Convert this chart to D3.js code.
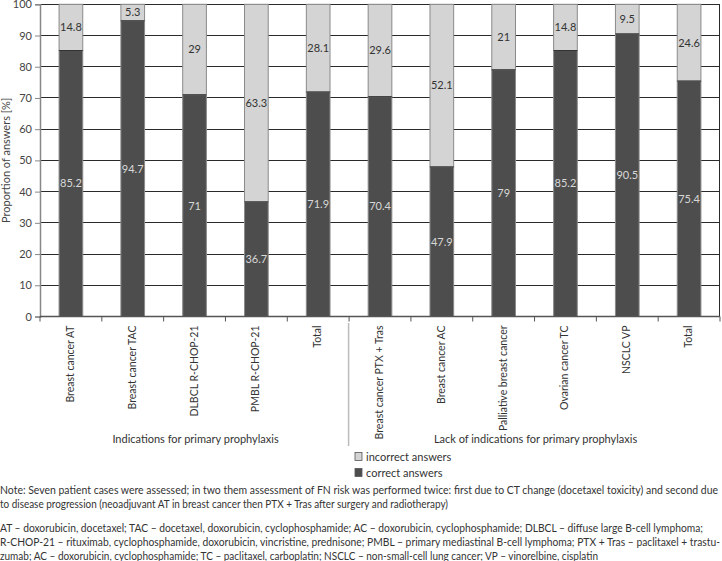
<!DOCTYPE html>
<html><head><meta charset="utf-8">
<script src="https://cdn.jsdelivr.net/npm/d3@7"></script>
<style>body{margin:0;background:#fff}svg{display:block}</style>
</head><body>
<svg id="c" width="722" height="561"></svg>
<script>
const categories = ["Breast cancer AT","Breast cancer TAC","DLBCL R-CHOP-21","PMBL R-CHOP-21","Total",
  "Breast cancer PTX + Tras","Breast cancer AC","Palliative breast cancer","Ovarian cancer TC","NSCLC VP","Total"];
const correct = [85.2,94.7,71,36.7,71.9,70.4,47.9,79,85.2,90.5,75.4];
const incorrect = [14.8,5.3,29,63.3,28.1,29.6,52.1,21,14.8,9.5,24.6];
const groups = [{name:"Indications for primary prophylaxis", from:0, to:4},
                {name:"Lack of indications for primary prophylaxis", from:5, to:10}];
const yTicks = [0,10,20,30,40,50,60,70,80,90,100];
const seriesNames = ["incorrect answers","correct answers"];
const noteLines = [
 "Note: Seven patient cases were assessed; in two them assessment of FN risk was performed twice: first due to CT change (docetaxel toxicity) and second due",
 "to disease progression (neoadjuvant AT in breast cancer then PTX + Tras after surgery and radiotherapy)"];
const abbrLines = [
 "AT – doxorubicin, docetaxel; TAC – docetaxel, doxorubicin, cyclophosphamide; AC – doxorubicin, cyclophosphamide; DLBCL – diffuse large B-cell lymphoma;",
 "R-CHOP-21 – rituximab, cyclophosphamide, doxorubicin, vincristine, prednisone; PMBL – primary mediastinal B-cell lymphoma; PTX + Tras – paclitaxel + trastu-",
 "zumab; AC – doxorubicin, cyclophosphamide; TC – paclitaxel, carboplatin; NSCLC – non-small-cell lung cancer; VP – vinorelbine, cisplatin"];

const svg = d3.select("#c");
const font = "Lato, 'Open Sans', sans-serif";
const L = 40, R = 720, T = 4.3, B = 316.5;
const idx = categories.map((_, i) => i);
const x = d3.scaleBand().domain(idx).range([L, R]).paddingInner(0.617).paddingOuter(0.3085);
const xb = d3.scaleBand().domain(idx).range([L, R]);
const y = d3.scaleLinear().domain([0, 100]).range([B, T]);
const cDark = "#4d4d4d", cLight = "#d4d4d4";

// gridlines
svg.append("g").selectAll("line").data(yTicks.filter(d => d > 0)).join("line")
  .attr("x1", L).attr("x2", R).attr("y1", d => y(d)).attr("y2", d => y(d))
  .attr("stroke", "#2a2a2a").attr("stroke-width", 1).attr("shape-rendering","crispEdges");
svg.append("line").attr("x1", R - 0.5).attr("x2", R - 0.5).attr("y1", T).attr("y2", B)
  .attr("stroke", "#2a2a2a").attr("shape-rendering","crispEdges");

// bars
const gb = svg.append("g");
idx.forEach(i => {
  gb.append("rect").attr("x", x(i)).attr("width", x.bandwidth())
    .attr("y", y(100)).attr("height", y(correct[i]) - y(100))
    .attr("fill", cLight).attr("stroke", "#8a8a8a").attr("stroke-width", 1);
  gb.append("rect").attr("x", x(i)).attr("width", x.bandwidth())
    .attr("y", y(correct[i])).attr("height", y(0) - y(correct[i]))
    .attr("fill", cDark).attr("stroke", "#8a8a8a").attr("stroke-width", 1);
  gb.append("line").attr("x1", x(i)).attr("x2", x(i) + x.bandwidth())
    .attr("y1", y(correct[i])).attr("y2", y(correct[i])).attr("stroke", "#333");
  gb.append("text").attr("x", x(i) + x.bandwidth()/2).attr("y", y(correct[i]/2))
    .attr("dy", "0.35em").attr("text-anchor", "middle").attr("fill", "#d8d8d8")
    .attr("font-family", font).attr("font-size", 11).text(correct[i]);
  gb.append("text").attr("x", x(i) + x.bandwidth()/2).attr("y", y(correct[i] + incorrect[i]/2))
    .attr("dy", "0.35em").attr("text-anchor", "middle").attr("fill", "#333")
    .attr("font-family", font).attr("font-size", 11).text(incorrect[i]);
});

// y axis
const ya = svg.append("g").attr("transform", `translate(${L},0)`)
  .call(d3.axisLeft(y).tickValues(yTicks).tickSize(5).tickPadding(3));
ya.select(".domain").attr("stroke", "#888").attr("stroke-width", 1.5);
ya.selectAll(".tick line").attr("stroke", "#888");
ya.selectAll("text").attr("font-family", font).attr("font-size", 11).attr("fill", "#444");

// x axis
svg.append("line").attr("x1", L).attr("x2", R).attr("y1", B).attr("y2", B)
  .attr("stroke", "#555").attr("stroke-width", 1.5);
svg.append("g").selectAll("line").data(idx.concat([idx.length])).join("line")
  .attr("x1", d => L + d * xb.bandwidth()).attr("x2", d => L + d * xb.bandwidth())
  .attr("y1", B).attr("y2", B + 5).attr("stroke", "#555");
svg.append("g").selectAll("text").data(idx).join("text")
  .attr("transform", d => `translate(${xb(d) + xb.bandwidth()/2 + 3},${B + 9}) rotate(-90)`)
  .attr("text-anchor", "end").attr("font-family", font).attr("font-size", 10.5).attr("fill", "#333")
  .text(d => categories[d]);

// y title
svg.append("text").attr("transform", `translate(10,${(T + B)/2}) rotate(-90)`)
  .attr("text-anchor", "middle").attr("font-family", font).attr("font-size", 11).attr("fill", "#444")
  .text("Proportion of answers [%]");

// groups
groups.forEach(g => {
  const cx = (xb(g.from) + xb(g.to) + xb.bandwidth()) / 2;
  svg.append("text").attr("x", cx + 1).attr("y", 443).attr("text-anchor", "middle")
    .attr("font-family", font).attr("font-size", 11).attr("fill", "#333").text(g.name);
});
svg.append("line").attr("x1", xb(5) - 0.5).attr("x2", xb(5) - 0.5).attr("y1", 323).attr("y2", 446)
  .attr("stroke", "#bbb").attr("stroke-width", 1.5);

// legend
const legY = [457, 473];
seriesNames.forEach((s, i) => {
  svg.append("rect").attr("x", 355).attr("y", legY[i] - 4.5).attr("width", 7).attr("height", 8)
    .attr("fill", i === 0 ? cLight : cDark).attr("stroke", "#555").attr("stroke-width", 0.8);
  svg.append("text").attr("x", 366).attr("y", legY[i]).attr("dy", "0.35em")
    .attr("font-family", font).attr("font-size", 11).attr("fill", "#333").text(s);
});

// notes
const noteFont = "Lato, 'Noto Sans', sans-serif";
const noteY = [494, 508], noteW = [718, 448];
noteLines.forEach((t, i) => {
  svg.append("text").attr("x", 0).attr("y", noteY[i])
    .attr("font-family", noteFont).attr("font-size", 11).attr("fill", "#333")
    .attr("textLength", noteW[i]).attr("lengthAdjust", "spacingAndGlyphs").text(t);
});
const abbrY = [531.5, 545.5, 559.5], abbrW = [703, 720, 598];
abbrLines.forEach((t, i) => {
  svg.append("text").attr("x", 0).attr("y", abbrY[i])
    .attr("font-family", noteFont).attr("font-size", 11).attr("fill", "#333")
    .attr("textLength", abbrW[i]).attr("lengthAdjust", "spacingAndGlyphs").text(t);
});
</script>
</body></html>
